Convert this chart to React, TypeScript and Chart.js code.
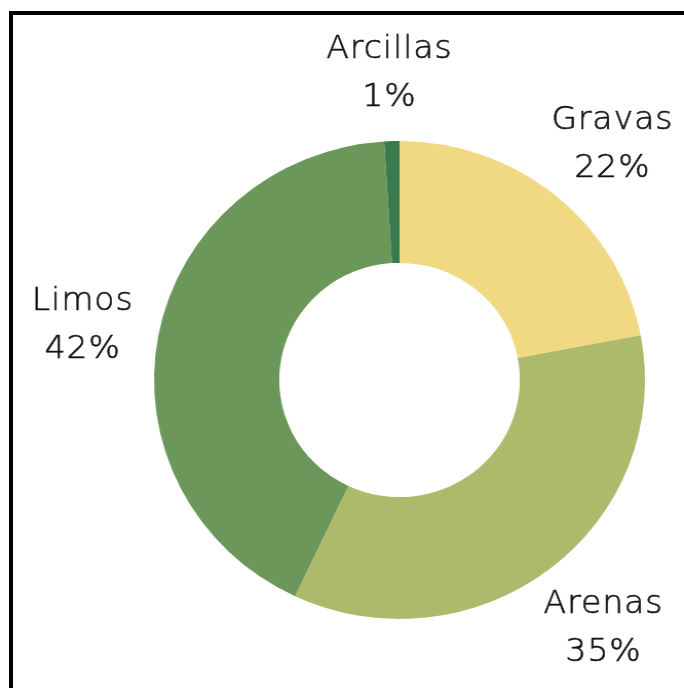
import React, { useEffect, useRef } from "react";
import { Chart, registerables } from "chart.js";

Chart.register(...registerables);

const categories = ["Gravas", "Arenas", "Limos", "Arcillas"];
const values = [22, 35, 42, 1];
const colors = ["#F0D982", "#ADB96B", "#6B975A", "#3A7A4F"];

const W = 666;
const H = 688;
const SX = 684 / 666;

const labelPlugin = {
  id: "outLabels",
  afterDatasetsDraw(chart: any) {
    const ctx = chart.ctx;
    const meta = chart.getDatasetMeta(0);
    const fontSize = 32;
    const lineH = 48;
    ctx.save();
    ctx.font = `200 ${fontSize}px "DejaVu Sans"`;
    (ctx as any).letterSpacing = "1px";
    ctx.fillStyle = "#111111";
    ctx.strokeStyle = "#111111";
    ctx.lineWidth = 0.6;
    ctx.textAlign = "center";
    ctx.textBaseline = "middle";
    meta.data.forEach((arc: any, i: number) => {
      const { x, y, startAngle, endAngle, outerRadius } = arc.getProps(
        ["x", "y", "startAngle", "endAngle", "outerRadius"],
        true
      );
      const mid = (startAngle + endAngle) / 2;
      const vx = Math.cos(mid);
      const vy = Math.sin(mid);
      const lines = [categories[i], values[i] + "%"];
      const w = Math.max(...lines.map((l) => ctx.measureText(l).width));
      const ax = outerRadius + w / 2 + 26;
      const ay = outerRadius + (lines.length * lineH) / 2 + 23;
      const cx = x + vx * ax;
      const cy = y + vy * ay + 3.5;
      lines.forEach((l, k) => {
        const ly = cy + (k - (lines.length - 1) / 2) * lineH;
        ctx.fillText(l, cx + 0.5, ly);
        ctx.strokeText(l, cx + 0.5, ly);
      });
    });
    ctx.restore();
  },
};

export default function App() {
  const ref = useRef<HTMLCanvasElement>(null);
  useEffect(() => {
    const canvas = ref.current!;
    const chart = new Chart(canvas, {
      type: "doughnut",
      data: {
        labels: categories,
        datasets: [
          {
            data: values,
            backgroundColor: colors,
            borderWidth: 0,
          },
        ],
      },
      options: {
        responsive: false,
        animation: false,
        cutout: "49%",
        layout: { padding: { left: 150, right: 38, top: 141, bottom: 69 } },
        plugins: {
          legend: { display: false },
          tooltip: { enabled: false },
        },
      },
      plugins: [labelPlugin],
    });
    return () => chart.destroy();
  }, []);
  return (
    <div>
      <div
        style={{
          position: "fixed",
          left: 0,
          top: 0,
          width: W,
          height: H,
          transform: `scaleX(${SX})`,
          transformOrigin: "0 0",
        }}
      >
        <canvas
          ref={ref}
          width={W}
          height={H}
          style={{ width: W, height: H, display: "block" }}
        />
      </div>
      <div
        style={{
          position: "fixed",
          left: 9,
          top: 11,
          width: 800,
          height: 800,
          border: "4px solid #000",
          pointerEvents: "none",
        }}
      />
    </div>
  );
}
